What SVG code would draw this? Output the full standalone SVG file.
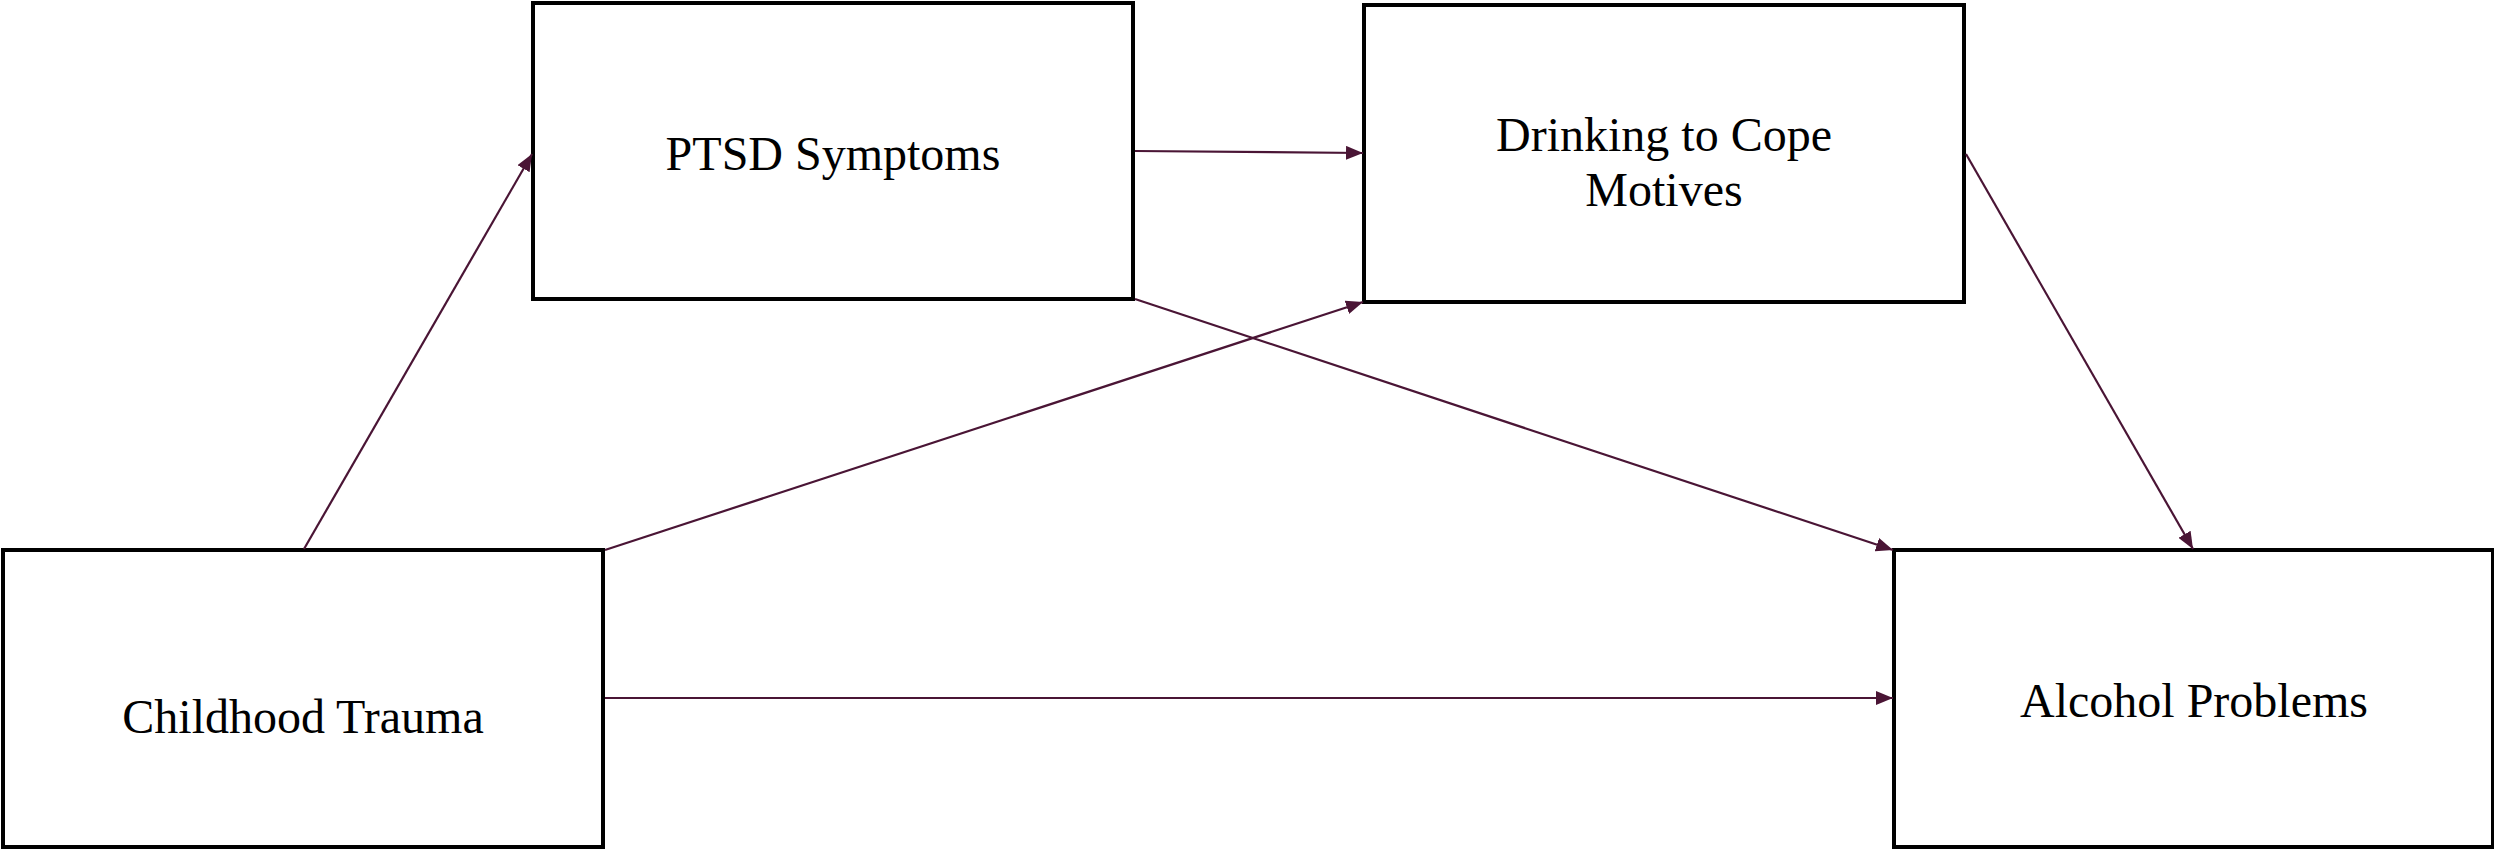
<svg xmlns="http://www.w3.org/2000/svg" width="2494" height="851" viewBox="0 0 2494 851">
<style>
.box{fill:#ffffff;stroke:#000000;stroke-width:4;stroke-linejoin:miter}
.lbl{font-family:"Liberation Serif","Times New Roman",serif;font-size:48px;fill:#000000;text-anchor:middle}
.edge{stroke:#4a1535;stroke-width:2.2;fill:none;marker-end:url(#ah)}
</style>
<defs>
<marker id="ah" markerUnits="userSpaceOnUse" markerWidth="18" markerHeight="14" refX="17" refY="7" orient="auto">
<path d="M0,0 L17,7 L0,14 Z" fill="#4a1535"/>
</marker>
</defs>
<rect width="2494" height="851" fill="#ffffff"/>
<g id="node-ptsd">
<rect class="box" x="533" y="3" width="600" height="296"/>
<text class="lbl" x="833" y="170">PTSD Symptoms</text>
</g>
<g id="node-drinking">
<rect class="box" x="1364" y="5" width="600" height="297"/>
<text class="lbl" x="1664" y="151">Drinking to Cope</text>
<text class="lbl" x="1664" y="206">Motives</text>
</g>
<g id="node-childhood">
<rect class="box" x="3" y="550" width="600" height="297"/>
<text class="lbl" x="303" y="733">Childhood Trauma</text>
</g>
<g id="node-alcohol">
<rect class="box" x="1894" y="550" width="599" height="297"/>
<text class="lbl" x="2194" y="717">Alcohol Problems</text>
</g>
<g id="connectors">
<line class="edge" x1="304" y1="549" x2="532" y2="154"/>
<line class="edge" x1="1135" y1="151" x2="1363" y2="153"/>
<line class="edge" x1="1966" y1="154" x2="2193" y2="549"/>
<line class="edge" x1="1135" y1="299" x2="1893" y2="550"/>
<line class="edge" x1="605" y1="550" x2="1363" y2="302"/>
<line class="edge" x1="605" y1="698" x2="1893" y2="698"/>
</g>
</svg>
